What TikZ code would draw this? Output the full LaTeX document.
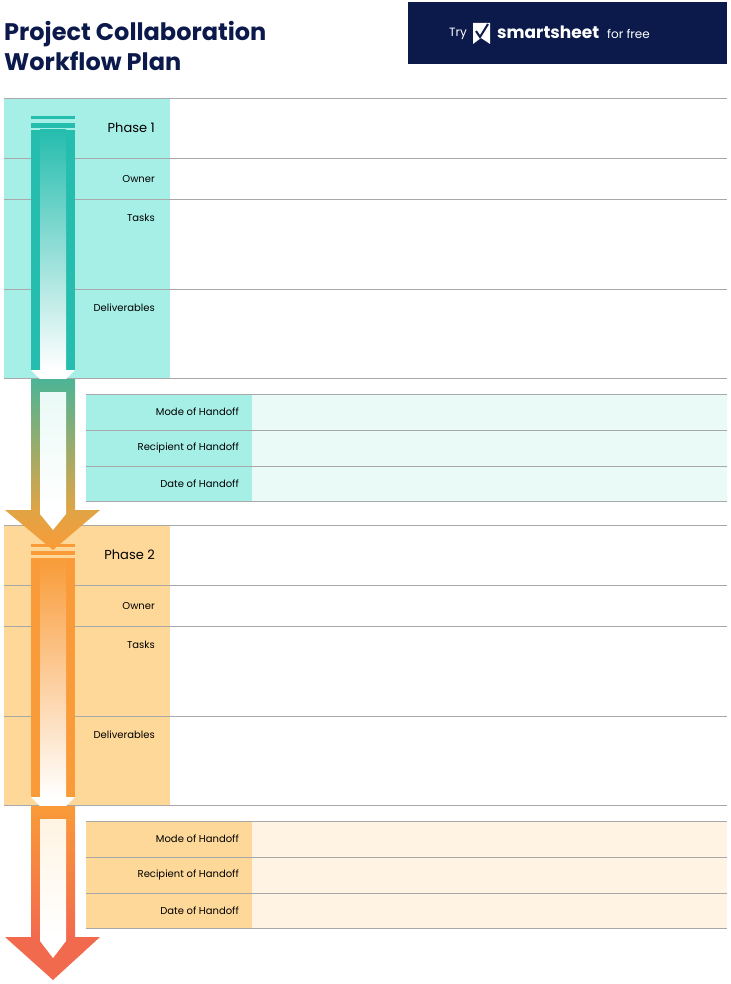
\documentclass[tikz,border=0pt]{standalone}
\usepackage{fontspec}
\setmainfont{Poppins}
\usetikzlibrary{shadings}
\definecolor{navy}{HTML}{0B1A4B}
\definecolor{cyanbox}{HTML}{A6EFE6}
\definecolor{cyanlt}{HTML}{EAFAF6}
\definecolor{orbox}{HTML}{FDD898}
\definecolor{orlt}{HTML}{FFF4E3}
\definecolor{teal}{HTML}{25BDAE}
\definecolor{tealmid}{HTML}{4DB496}
\definecolor{gold}{HTML}{E0A445}
\definecolor{orng}{HTML}{F99B38}
\definecolor{coral}{HTML}{F26A4E}
\definecolor{rule}{HTML}{A8A8A8}
\tikzset{
  rl/.style={draw=rule,line width=0.9pt},
  lab/.style={anchor=east,font=\fontsize{10}{12}\selectfont,inner sep=0pt},
  ph/.style={anchor=east,font=\fontsize{13}{15}\selectfont,inner sep=0pt},
}
\begin{document}
\begin{tikzpicture}[x=1pt,y=-1pt]
\useasboundingbox (0,0) rectangle (730,984);
\fill[white] (0,0) rectangle (730,984);
% title
\node[anchor=west,inner sep=0pt,text=navy,font=\fontsize{24}{30}\bfseries\selectfont,align=left] (title) at (4,46) {Project Collaboration\\Workflow Plan};
% logo
\fill[navy] (408,2) rectangle (727,64);
\node[anchor=east,text=white,inner sep=0pt,font=\fontsize{12}{14}\selectfont] (try) at (467,34) {Try};
\fill[white] (473,23) -- (490,23) -- (490,44) -- (481,38) -- (473,44) -- cycle;
\draw[navy,line width=2pt] (476,31) -- (480,37) -- (488,24);
\node[anchor=west,text=white,inner sep=0pt,font=\fontsize{17}{18}\bfseries\selectfont] (sm) at (497,32) {smartsheet};
\node[anchor=west,text=white,inner sep=0pt,font=\fontsize{12}{14}\selectfont] (ff) at (607,34) {for free};
% phase blocks
\foreach \dy/\bx/\lt in {0/cyanbox/cyanlt, 427/orbox/orlt}{
  \begin{scope}[yshift=-\dy]
  \fill[\bx] (4,98) rectangle (170,378);
  \fill[\bx] (86,394) rectangle (252,501);
  \fill[\lt] (252,394) rectangle (727,501);
  \foreach \y in {98,158,199,289,378} \draw[rl] (4,\y) -- (727,\y);
  \foreach \y in {394,430,466,501} \draw[rl] (86,\y) -- (727,\y);
  \end{scope}
}
% arrows phase 1
\fill[teal] (31,130) rectangle (75,370);
\shade[top color=teal,bottom color=white] (40,130) rectangle (66,370);
\fill[white] (31,370) -- (75,370) -- (53,392) -- cycle;
\fill[teal] (31,116) rectangle (75,119);
\fill[teal] (31,123) rectangle (75,128);
\shade[top color=tealmid,bottom color=gold] (31,379) rectangle (75,510);
\shade[top color=cyanlt,bottom color=white] (40,392) rectangle (66,510);
\shade[top color=gold,bottom color=orng] (5,510) -- (100,510) -- (53,550) -- cycle;
\fill[white] (40,510) -- (66,510) -- (66,514) -- (53,530) -- (40,514) -- cycle;
% phase 2 arrows
\fill[orng] (31,544) rectangle (75,547);
\fill[orng] (31,551) rectangle (75,555);
\fill[orng] (31,558) rectangle (75,797);
\shade[top color=orng,bottom color=white] (40,558) rectangle (66,797);
\fill[white] (31,797) -- (75,797) -- (53,819) -- cycle;
\shade[top color=orng,bottom color=coral] (31,806) rectangle (75,937);
\shade[top color=orlt,bottom color=white] (40,819) rectangle (66,937);
\fill[coral] (5,937) -- (100,937) -- (53,980) -- cycle;
\fill[white] (40,937) -- (66,937) -- (66,941) -- (53,958) -- (40,941) -- cycle;
% labels
\foreach \dy/\n in {0/1,427/2}{
  \node[ph] (ph\n) at (155,128+\dy) {Phase \n};
  \node[lab] (ow\n) at (155,179+\dy) {Owner};
  \node[lab] (ta\n) at (155,218+\dy) {Tasks};
  \node[lab] (de\n) at (155,308+\dy) {Deliverables};
  \node[lab] (mo\n) at (239,412+\dy) {Mode of Handoff};
  \node[lab] (re\n) at (239,448+\dy) {Recipient of Handoff};
  \node[lab] (da\n) at (239,484+\dy) {Date of Handoff};
}
\end{tikzpicture}
\end{document}
